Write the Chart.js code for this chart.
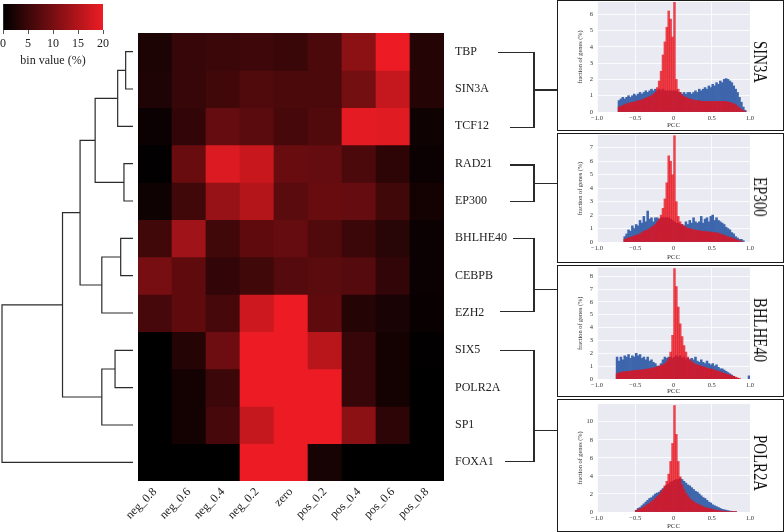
<!DOCTYPE html>
<html>
<head>
<meta charset="utf-8">
<script src="https://cdn.jsdelivr.net/npm/chart.js@4.4.0/dist/chart.umd.min.js"></script>
<style>
html, body { margin: 0; padding: 0; background: #fff; }
#page { position: relative; width: 784px; height: 532px; overflow: hidden; font-family: 'Liberation Serif', 'Times New Roman', serif; }
canvas { position: absolute; }
.box { position: absolute; border: 1.6px solid #1b1b1b; box-sizing: border-box; }
.line { position: absolute; background: #2a2a2a; }
.tag { position: absolute; font-size: 19px; color: #111; white-space: nowrap; }
</style>
</head>
<body>
<div id="page">
  <canvas id="dendro" width="138" height="448" style="left:0px;top:33px"></canvas>
  <canvas id="heat" width="440" height="507" style="left:100px;top:25px"></canvas>
  <canvas id="cbar" width="125" height="72" style="left:0px;top:0px"></canvas>
</div>
<script>
// heatmap
const columns = ['neg_0.8', 'neg_0.6', 'neg_0.4', 'neg_0.2', 'zero', 'pos_0.2', 'pos_0.4', 'pos_0.6', 'pos_0.8'];
const rows = ['TBP', 'SIN3A', 'TCF12', 'RAD21', 'EP300', 'BHLHE40', 'CEBPB', 'EZH2', 'SIX5', 'POLR2A', 'SP1', 'FOXA1'];
const binValues = [
  [2.4, 4.6, 5.0, 5.2, 4.9, 6.3, 11.8, 20, 3.0],
  [2.5, 4.6, 5.5, 6.8, 6.3, 6.3, 9.7, 16.5, 3.0],
  [1.0, 4.2, 8.4, 7.6, 5.9, 6.8, 19.2, 19.0, 1.3],
  [0.2, 8.9, 18.6, 16.9, 8.9, 8.4, 6.3, 3.8, 1.0],
  [1.3, 5.5, 12.7, 15.2, 7.6, 8.9, 8.4, 5.5, 1.7],
  [5.5, 13.5, 5.5, 8.0, 8.4, 6.8, 5.0, 3.4, 1.0],
  [10.0, 8.0, 4.2, 5.5, 7.2, 7.6, 7.2, 4.2, 1.0],
  [5.9, 8.0, 5.9, 17.3, 20, 8.0, 3.0, 2.1, 0.8],
  [0, 3.0, 9.3, 20, 20, 15.6, 4.6, 1.7, 0.2],
  [0, 1.7, 5.0, 20, 20, 20, 4.6, 1.7, 0],
  [0, 1.7, 5.9, 16.5, 20, 20, 11.8, 3.8, 0],
  [0, 0, 0, 20, 20, 1.9, 0, 0, 0]
];
const colorTicks = [0, 5, 10, 15, 20];

// dendrogram linkage (leaf ids = row index, new clusters 12, 13, ...)
const linkLeft = [0, 3, 5, 12, 8, 14, 16, 15, 19, 20, 21];
const linkRight = [1, 4, 6, 2, 9, 7, 10, 13, 17, 18, 11];
const linkHeight = [0.056, 0.069, 0.094, 0.117, 0.137, 0.238, 0.238, 0.289, 0.404, 0.538, 1.0];

// histograms: bins of 0.025 from -1 to 1
const binStart = -1;
const binWidth = 0.025;
const pccTicks = [-1, -0.5, 0, 0.5, 1];
const insetNames = ['SIN3A', 'EP300', 'BHLHE40', 'POLR2A'];
const insetYMax = [6.75, 7.95, 8.68, 11.97];
const insetYStep = [1, 1, 1, 2];

const sin3aBlue = [0,0,0,0,0,0,0,0,0,0,
  0,0.7,0.8,0.9,0.8,0.9,1.0,0.9,1.0,1.1,
  1.0,1.1,1.2,1.1,1.2,1.3,1.2,1.3,1.4,1.3,
  1.4,1.3,1.4,1.3,1.4,1.3,1.3,1.3,1.3,1.3,
  1.3,1.3,1.2,1.2,1.1,1.2,1.1,1.2,1.2,1.1,
  1.2,1.3,1.2,1.4,1.3,1.4,1.5,1.4,1.6,1.5,
  1.7,1.6,1.8,1.7,1.9,1.8,2.0,2.05,2.0,1.9,
  1.8,1.6,1.4,1.2,0.9,0.6,0.3,0.1,0,0];
const sin3aRed = [0,0,0,0,0,0,0,0,0,0,
  0,0.3,0.35,0.4,0.45,0.5,0.55,0.55,0.6,0.6,
  0.65,0.7,0.7,0.75,0.8,0.85,0.9,0.95,1.0,1.1,
  1.2,1.5,1.9,2.5,3.5,4.3,5.2,6.2,5.7,4.6,
  6.8,2.0,1.4,1.2,1.05,0.95,0.9,0.85,0.8,0.75,
  0.75,0.7,0.7,0.7,0.65,0.65,0.65,0.65,0.65,0.65,
  0.65,0.65,0.65,0.65,0.65,0.65,0.65,0.65,0.6,0.6,
  0.55,0.5,0.45,0.35,0.25,0.15,0.08,0.03,0,0];
const ep300Blue = [0,0,0,0,0,0,0,0,0,0,
  0,0,0,0,0.4,0.6,0.9,0.8,1.2,1.0,
  1.3,1.2,1.6,1.4,1.9,1.5,2.3,1.7,1.8,1.5,
  1.8,1.8,1.7,1.8,1.8,1.8,1.8,1.8,1.7,1.6,
  1.5,1.4,1.4,1.3,1.3,1.2,1.5,1.3,1.6,1.4,
  1.8,1.5,1.4,1.5,1.9,1.4,1.7,1.8,1.5,1.9,
  2.0,1.6,1.8,1.6,1.5,1.4,1.3,1.1,1.0,0.9,
  0.7,0.6,0.4,0.3,0.2,0.2,0.1,0,0,0];
const ep300Red = [0,0,0,0,0,0,0,0,0,0,
  0,0,0,0,0.2,0.25,0.3,0.35,0.4,0.45,
  0.5,0.55,0.6,0.7,0.8,0.85,0.9,1.0,1.1,1.2,
  1.3,1.5,1.7,2.0,2.5,3.2,4.4,6.4,6.0,5.0,
  7.9,3.0,1.9,1.5,1.3,1.2,1.1,1.0,1.0,0.95,
  0.9,0.9,0.85,0.85,0.8,0.8,0.8,0.75,0.75,0.75,
  0.7,0.7,0.7,0.65,0.6,0.55,0.5,0.45,0.4,0.35,
  0.3,0.25,0.2,0.15,0.1,0.05,0,0,0,0];
const bhlhe40Blue = [0,0,0,0,0,0,0,0,0,0,
  1.7,1.4,1.7,1.5,1.8,1.7,1.9,1.6,1.8,1.7,
  2.0,1.8,1.9,1.6,1.7,1.5,1.7,1.4,1.5,1.3,
  1.2,1.0,1.0,1.2,1.5,1.7,1.6,1.7,1.7,1.6,
  1.7,1.8,1.7,1.8,1.6,1.7,1.5,1.6,1.5,1.6,
  1.5,1.7,1.4,1.3,1.5,1.3,1.2,1.4,1.2,1.1,
  1.2,1.0,1.1,0.9,0.8,0.8,0.7,0.6,0.5,0.4,
  0.3,0.2,0.1,0.05,0,0,0,0,0,0.25];
const bhlhe40Red = [0,0,0,0,0,0,0,0,0,0,
  0.4,0.5,0.5,0.55,0.55,0.6,0.6,0.6,0.65,0.65,
  0.65,0.7,0.7,0.7,0.75,0.75,0.8,0.8,0.85,0.85,
  0.9,0.95,1.0,1.05,1.1,1.2,1.35,1.6,2.1,3.4,
  8.6,7.2,5.6,4.3,3.3,2.6,2.1,1.7,1.5,1.35,
  1.25,1.15,1.1,1.05,1.0,0.95,0.9,0.85,0.8,0.8,
  0.75,0.7,0.65,0.6,0.55,0.5,0.45,0.4,0.35,0.3,
  0.25,0.2,0.15,0.1,0.05,0,0,0,0,0];
const polr2aBlue = [0,0,0,0,0,0,0,0,0,0,
  0,0,0,0,0,0,0,0,0,0,
  0.2,0.4,0.5,0.7,0.9,1.1,1.3,1.5,1.6,1.8,
  2.0,2.1,2.2,2.4,2.6,2.8,3.0,3.1,3.3,3.4,
  3.5,3.6,3.6,3.7,3.6,3.4,3.2,3.0,2.9,2.7,
  2.5,2.3,2.2,2.0,1.8,1.6,1.5,1.3,1.1,1.0,
  0.8,0.7,0.6,0.5,0.4,0.3,0.25,0.2,0.15,0.1,
  0.08,0.05,0.03,0,0,0,0,0,0,0];
const polr2aRed = [0,0,0,0,0,0,0,0,0,0,
  0,0,0,0,0,0,0,0,0,0,
  0.15,0.25,0.35,0.45,0.55,0.7,0.85,1.0,1.15,1.3,
  1.5,1.7,1.9,2.2,2.5,2.9,3.4,4.2,5.6,7.6,
  11.8,8.6,5.6,3.9,3.0,2.5,2.1,1.8,1.5,1.3,
  1.15,1.0,0.9,0.8,0.7,0.6,0.5,0.45,0.4,0.35,
  0.3,0.25,0.2,0.17,0.14,0.11,0.09,0.07,0.05,0.04,
  0.03,0.02,0.01,0,0,0,0,0,0,0];

const insetBlue = [sin3aBlue, ep300Blue, bhlhe40Blue, polr2aBlue];
const insetRed = [sin3aRed, ep300Red, bhlhe40Red, polr2aRed];

const serif = "'Liberation Serif', 'Times New Roman', serif";
const textColor = '#222';

function cmap(v) {
    const t = Math.max(0, Math.min(1, v / 20));
    return 'rgb(' + Math.round(237 * t) + ',' + Math.round(28 * t) + ',' + Math.round(36 * t) + ')';
}

// scales keep their fixed size and add no extra padding to the chart area
function fixSize(w, h) {
    return s => {
        if (w !== null) s.width = w;
        if (h !== null) s.height = h;
        s.paddingTop = 0; s.paddingBottom = 0; s.paddingLeft = 0; s.paddingRight = 0;
    };
}

// colour bar
new Chart(document.getElementById('cbar'), {
    type: 'bar',
    data: {
        labels: ['bin'],
        datasets: [{
            data: [[colorTicks[0], colorTicks[colorTicks.length - 1]]],
            backgroundColor: function(ctx) {
                const a = ctx.chart.chartArea;
                if (!a || !isFinite(a.left) || !isFinite(a.right)) return cmap(10);
                const g = ctx.chart.ctx.createLinearGradient(a.left, 0, a.right, 0);
                g.addColorStop(0, cmap(0));
                g.addColorStop(1, cmap(20));
                return g;
            },
            borderWidth: 0,
            barPercentage: 1,
            categoryPercentage: 1
        }]
    },
    options: {
        indexAxis: 'y',
        responsive: false,
        animation: false,
        layout: { padding: { left: 3, right: 22, top: 4, bottom: 0 }, autoPadding: false },
        plugins: { legend: { display: false }, tooltip: { enabled: false } },
        scales: {
            y: { display: false },
            x: {
                min: 0,
                max: 20,
                afterBuildTicks: s => { s.ticks = colorTicks.map(v => ({ value: v })); },
                grid: { drawOnChartArea: false, tickLength: 4, color: '#555' },
                border: { display: false },
                ticks: { padding: 3, color: textColor, font: { family: serif, size: 12 } },
                title: { display: true, text: 'bin value (%)', color: textColor, font: { family: serif, size: 12 }, padding: { top: 1, bottom: 4 } },
                afterFit: fixSize(null, 42)
            }
        }
    }
});

// dendrogram
const nodeY = rows.map((_, i) => i);
const nodeH = rows.map(() => 0);
const dendroSets = linkLeft.map((a, k) => {
    const b = linkRight[k];
    const h = linkHeight[k];
    const pts = [
        { x: nodeH[a], y: nodeY[a] },
        { x: h, y: nodeY[a] },
        { x: h, y: nodeY[b] },
        { x: nodeH[b], y: nodeY[b] }
    ];
    nodeY.push((nodeY[a] + nodeY[b]) / 2);
    nodeH.push(h);
    return { data: pts, showLine: true, borderColor: '#2b2b2b', borderWidth: 1.2, pointRadius: 0, clip: false };
});
new Chart(document.getElementById('dendro'), {
    type: 'scatter',
    data: { datasets: dendroSets },
    options: {
        responsive: false,
        animation: false,
        layout: { padding: { left: 2, right: 5, top: 0, bottom: 0 }, autoPadding: false },
        plugins: { legend: { display: false }, tooltip: { enabled: false } },
        scales: {
            x: { type: 'linear', reverse: true, min: 0, max: 1, display: false },
            y: { type: 'linear', reverse: true, min: -0.5, max: rows.length - 0.5, display: false }
        }
    }
});

// heatmap
new Chart(document.getElementById('heat'), {
    type: 'bar',
    data: {
        labels: columns,
        datasets: rows.map((r, i) => ({
            label: r,
            data: columns.map(() => 1),
            backgroundColor: binValues[i].map(cmap),
            borderWidth: 0,
            barPercentage: 1,
            categoryPercentage: 1
        }))
    },
    options: {
        responsive: false,
        animation: false,
        layout: { padding: { left: 38, top: 8, right: 0, bottom: 0 }, autoPadding: false },
        plugins: { legend: { display: false }, tooltip: { enabled: false } },
        scales: {
            x: {
                stacked: true,
                grid: { display: false, drawTicks: false },
                border: { display: false },
                ticks: { minRotation: 45, maxRotation: 45, autoSkip: false, padding: 4, color: textColor, font: { family: serif, size: 12 } },
                afterFit: fixSize(null, 51)
            },
            y: {
                stacked: true,
                position: 'right',
                reverse: true,
                min: 0,
                max: rows.length,
                grid: { display: false, drawTicks: false },
                border: { display: false },
                afterBuildTicks: s => { s.ticks = rows.map((_, i) => ({ value: i + 0.5 })); },
                ticks: { autoSkip: false, padding: 11, color: textColor, font: { family: serif, size: 12 }, callback: v => rows[Math.floor(v)] },
                afterFit: fixSize(96, null)
            }
        }
    }
});

// brackets from row labels to the insets
const page = document.getElementById('page');
function addLine(x, y, w, h) {
    const d = document.createElement('div');
    d.className = 'line';
    d.style.left = x + 'px'; d.style.top = y + 'px';
    d.style.width = w + 'px'; d.style.height = h + 'px';
    page.appendChild(d);
}
const brackets = [
    { y1: 52.7, x1: 498, y2: 127.7, x2: 510, out: 90 },
    { y1: 165, x1: 510, y2: 201.7, x2: 510, out: 183.3 },
    { y1: 238.3, x1: 513, y2: 311.7, x2: 500, out: 289.3 },
    { y1: 350.7, x1: 500, y2: 461.7, x2: 505, out: 430.7 }
];
const bracketX = 534;
brackets.forEach(b => {
    addLine(b.x1, b.y1 - 0.6, bracketX - b.x1, 1.2);
    addLine(b.x2, b.y2 - 0.6, bracketX - b.x2, 1.2);
    addLine(bracketX - 0.6, b.y1 - 0.6, 1.2, b.y2 - b.y1 + 1.2);
    addLine(bracketX, b.out - 0.6, 557 - bracketX, 1.2);
});

// insets
const insetLayout = [
    { top: 0, height: 131, padTop: 1, xAxisH: 18, tagY: 62 },
    { top: 133, height: 130, padTop: 1, xAxisH: 20, tagY: 197 },
    { top: 265, height: 132, padTop: 1.5, xAxisH: 17, tagY: 330 },
    { top: 399, height: 133, padTop: 4, xAxisH: 19, tagY: 463 }
];
const plotBg = {
    id: 'plotBg',
    beforeDraw(chart) {
        const a = chart.chartArea;
        const c = chart.ctx;
        c.save();
        c.fillStyle = '#EAEAF2';
        c.fillRect(a.left, a.top, a.right - a.left, a.bottom - a.top);
        c.restore();
    }
};
function toPoints(values) {
    return values.map((v, i) => ({ x: binStart + binWidth * (i + 0.5), y: v })).filter(p => p.y > 0);
}
insetNames.forEach((name, k) => {
    const L = insetLayout[k];
    const box = document.createElement('div');
    box.className = 'box';
    box.style.left = '557px'; box.style.top = L.top + 'px';
    box.style.width = '227px'; box.style.height = L.height + 'px';
    page.appendChild(box);

    const cv = document.createElement('canvas');
    cv.width = 224; cv.height = L.height - 2;
    cv.style.left = '558px'; cv.style.top = (L.top + 1) + 'px';
    page.appendChild(cv);

    const tag = document.createElement('div');
    tag.className = 'tag';
    tag.textContent = name;
    tag.style.left = '760px'; tag.style.top = L.tagY + 'px';
    tag.style.transform = 'translate(-50%, -50%) rotate(90deg) scaleX(0.78)';
    page.appendChild(tag);

    const step = insetYStep[k];
    const small = { family: serif, size: 6.5 };
    new Chart(cv, {
        type: 'bar',
        data: {
            // the first dataset is drawn last, so red sits over blue
            datasets: [
                { data: toPoints(insetRed[k]), backgroundColor: 'rgba(232,14,24,0.75)', grouped: false, barPercentage: 1, categoryPercentage: 1, borderWidth: 0 },
                { data: toPoints(insetBlue[k]), backgroundColor: '#3D66AC', grouped: false, barPercentage: 1, categoryPercentage: 1, borderWidth: 0 }
            ]
        },
        options: {
            responsive: false,
            animation: false,
            layout: { padding: { left: 0, right: 32, top: L.padTop, bottom: 0 }, autoPadding: false },
            plugins: { legend: { display: false }, tooltip: { enabled: false } },
            scales: {
                x: {
                    type: 'linear',
                    min: -1,
                    max: 1,
                    offset: false,
                    afterBuildTicks: s => { s.ticks = pccTicks.map(v => ({ value: v })); },
                    grid: { color: '#ffffff', lineWidth: 0.8, drawTicks: false, offset: false },
                    border: { display: false },
                    ticks: { padding: 2, color: '#333', font: small, callback: v => v === 0 ? '0' : v.toFixed(1).replace('-', '\u2212') },
                    title: { display: true, text: 'PCC', color: '#333', font: { family: serif, size: 7 }, padding: { top: 0, bottom: 1 } },
                    afterFit: fixSize(null, L.xAxisH)
                },
                y: {
                    min: 0,
                    max: insetYMax[k],
                    afterBuildTicks: s => {
                        const t = [];
                        for (let v = 0; v <= insetYMax[k]; v += step) t.push({ value: v });
                        s.ticks = t;
                    },
                    grid: { color: '#ffffff', lineWidth: 0.8, drawTicks: false },
                    border: { display: false },
                    ticks: { padding: 4, color: '#333', font: small },
                    title: { display: true, text: 'fraction of genes (%)', color: '#333', font: { family: serif, size: 6.3 }, padding: { top: 19, bottom: 0 } },
                    afterFit: fixSize(39, null)
                }
            }
        },
        plugins: [plotBg]
    });
});
</script>
</body>
</html>
